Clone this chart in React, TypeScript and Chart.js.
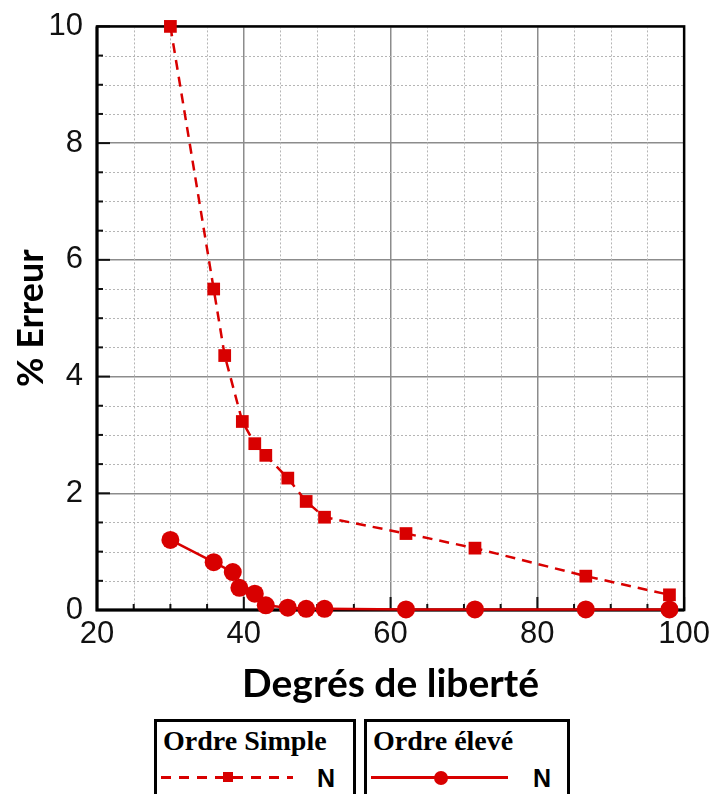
import React, { useEffect, useRef } from "react";
import { Chart, registerables } from "chart.js";

Chart.register(...registerables);

// ---- Data ----
const simpleX = [30, 35.9, 37.4, 39.8, 41.5, 43.0, 46.0, 48.5, 51.0, 62.1, 71.5, 86.6, 98.0];
const simpleY = [10, 5.5, 4.36, 3.23, 2.85, 2.65, 2.26, 1.86, 1.59, 1.31, 1.06, 0.58, 0.26];
const eleveX = [30, 35.9, 38.5, 39.4, 41.5, 43.0, 46.0, 48.5, 51.0, 62.1, 71.5, 86.6, 98.0];
const eleveY = [1.2, 0.82, 0.65, 0.38, 0.28, 0.08, 0.04, 0.02, 0.02, 0.01, 0.01, 0.01, 0.01];
const seriesNames = ["Ordre Simple", "Ordre élevé"];
const xTitle = "Degrés de liberté";
const yTitle = "% Erreur";
const xRange = [20, 100];
const yRange = [0, 10];
const xMajorStep = 20;
const yMajorStep = 2;
const xMinorStep = 5;
const yMinorStep = 0.5;

const RED = "#d80000";

const framePlugin = {
  id: "frameMinor",
  beforeDatasetsDraw(chart: any) {
    const { ctx, chartArea: a, scales } = chart;
    const x = scales.x;
    const y = scales.y;
    ctx.save();
    // minor dotted grid
    ctx.strokeStyle = "#b5b5b5";
    ctx.lineWidth = 1;
    ctx.setLineDash([2, 2]);
    for (let v = xRange[0] + xMinorStep; v < xRange[1]; v += xMinorStep) {
      if (Math.abs(v % xMajorStep) < 1e-6) continue;
      const px = Math.round(x.getPixelForValue(v)) + 0.5;
      ctx.beginPath();
      ctx.moveTo(px, a.top);
      ctx.lineTo(px, a.bottom);
      ctx.stroke();
    }
    for (let v = yRange[0] + yMinorStep; v < yRange[1]; v += yMinorStep) {
      if (Math.abs(v % yMajorStep) < 1e-6) continue;
      const py = Math.round(y.getPixelForValue(v)) + 0.5;
      ctx.beginPath();
      ctx.moveTo(a.left, py);
      ctx.lineTo(a.right, py);
      ctx.stroke();
    }
    ctx.setLineDash([]);
    // inward ticks
    ctx.strokeStyle = "#111";
    ctx.lineWidth = 2;
    for (let v = xRange[0]; v <= xRange[1]; v += xMinorStep) {
      const major = Math.abs(v % xMajorStep) < 1e-6;
      const px = x.getPixelForValue(v);
      ctx.beginPath();
      ctx.moveTo(px, a.bottom);
      ctx.lineTo(px, a.bottom - (major ? 13 : 6));
      ctx.stroke();
    }
    for (let v = yRange[0]; v <= yRange[1] + 1e-9; v += yMinorStep) {
      const major = Math.abs(v % yMajorStep) < 1e-6;
      const py = y.getPixelForValue(v);
      ctx.beginPath();
      ctx.moveTo(a.left, py);
      ctx.lineTo(a.left + (major ? 13 : 6), py);
      ctx.stroke();
    }
    // frame
    ctx.strokeStyle = "#000";
    ctx.lineWidth = 2.5;
    ctx.strokeRect(a.left, a.top, a.right - a.left, a.bottom - a.top);
    ctx.lineWidth = 3;
    ctx.beginPath();
    ctx.moveTo(a.left, a.top);
    ctx.lineTo(a.left, a.bottom);
    ctx.lineTo(a.right, a.bottom);
    ctx.stroke();
    ctx.restore();
  },
};

export default function App() {
  const ref = useRef<HTMLCanvasElement>(null);

  useEffect(() => {
    if (!ref.current) return;
    const chart = new Chart(ref.current, {
      type: "scatter",
      data: {
        datasets: [
          {
            label: seriesNames[0],
            data: simpleX.map((v, i) => ({ x: v, y: simpleY[i] })),
            showLine: true,
            borderColor: RED,
            backgroundColor: RED,
            borderWidth: 2.5,
            borderDash: [10, 7],
            pointStyle: "rect",
            pointRadius: 9,
            pointBorderWidth: 0,
            clip: false,
          },
          {
            label: seriesNames[1],
            data: eleveX.map((v, i) => ({ x: v, y: eleveY[i] })),
            showLine: true,
            borderColor: RED,
            backgroundColor: RED,
            borderWidth: 2.5,
            pointStyle: "circle",
            pointRadius: 9,
            pointBorderWidth: 0,
            clip: false,
          },
        ],
      },
      options: {
        responsive: false,
        animation: false,
        devicePixelRatio: 1,
        layout: { padding: { left: 0, top: 25, right: 30, bottom: 7 } },
        plugins: { legend: { display: false }, tooltip: { enabled: false } },
        scales: {
          x: {
            type: "linear",
            min: xRange[0],
            max: xRange[1],
            afterFit: (s: any) => {
              s.height = 98;
            },
            ticks: {
              stepSize: xMajorStep,
              padding: 6,
              color: "#111",
              font: { family: "Liberation Sans", size: 31 },
              maxRotation: 0,
            },
            grid: { color: "#8c8c8c", lineWidth: 1.5, drawTicks: false },
            border: { display: false },
            title: {
              display: true,
              text: xTitle,
              color: "#000",
              font: { family: "Lato", size: 39, weight: "bold" },
              padding: { top: 0, bottom: 0 },
            },
          },
          y: {
            type: "linear",
            min: yRange[0],
            max: yRange[1],
            afterFit: (s: any) => {
              s.width = 97;
            },
            ticks: {
              stepSize: yMajorStep,
              padding: 14,
              color: "#111",
              font: { family: "Liberation Sans", size: 31, lineHeight: 0.8 },
            },
            grid: { color: "#8c8c8c", lineWidth: 1.5, drawTicks: false },
            border: { display: false },
            title: {
              display: true,
              text: yTitle,
              color: "#000",
              font: { family: "Lato", size: 36, weight: "bold" },
              padding: { top: 10, bottom: 0 },
            },
          },
        },
      },
      plugins: [framePlugin],
    } as any);
    return () => chart.destroy();
  }, []);

  const boxStyle: React.CSSProperties = {
    position: "absolute",
    top: 719,
    height: 100,
    border: "3px solid #000",
    boxSizing: "border-box",
    background: "#fff",
  };
  const labelStyle: React.CSSProperties = {
    position: "absolute",
    left: 6,
    top: 2,
    fontFamily: "Liberation Serif",
    fontWeight: "bold",
    fontSize: 28,
    lineHeight: "34px",
    color: "#000",
    whiteSpace: "nowrap",
  };
  const nStyle: React.CSSProperties = {
    position: "absolute",
    top: 41,
    fontFamily: "Liberation Sans",
    fontWeight: "bold",
    fontSize: 25,
    lineHeight: "30px",
    color: "#000",
  };

  return (
    <div style={{ position: "absolute", left: 0, top: 0, width: 716, height: 794, overflow: "hidden", background: "#fff" }}>
      <canvas ref={ref} width={716} height={715} style={{ position: "absolute", left: 0, top: 0, width: 716, height: 715 }} />
      <div style={{ ...boxStyle, left: 154, width: 202 }}>
        <div style={labelStyle}>{seriesNames[0]}</div>
        <div
          style={{
            position: "absolute",
            left: 4,
            top: 54,
            width: 132,
            height: 3,
            background: `repeating-linear-gradient(to right, ${RED} 0 10px, transparent 10px 18px)`,
          }}
        />
        <div style={{ position: "absolute", left: 66, top: 50, width: 10, height: 10, background: RED }} />
        <div style={{ ...nStyle, left: 160 }}>N</div>
      </div>
      <div style={{ ...boxStyle, left: 364, width: 206 }}>
        <div style={labelStyle}>{seriesNames[1]}</div>
        <div style={{ position: "absolute", left: 4, top: 54, width: 137, height: 3, background: RED }} />
        <div
          style={{ position: "absolute", left: 67, top: 49, width: 14, height: 14, borderRadius: "50%", background: RED }}
        />
        <div style={{ ...nStyle, left: 166 }}>N</div>
      </div>
    </div>
  );
}
